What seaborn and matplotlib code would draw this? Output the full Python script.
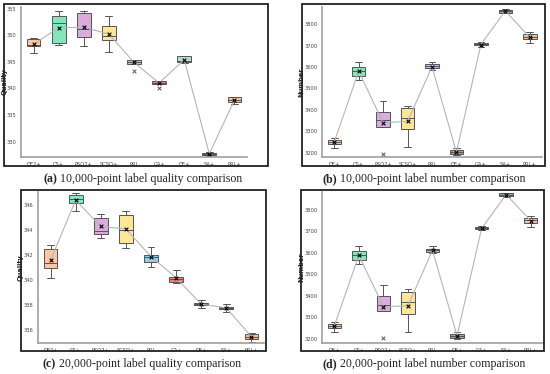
import numpy as np
import pandas as pd
import matplotlib
matplotlib.use("Agg")
import matplotlib.pyplot as plt
import seaborn as sns

# ------------------------------------------------------------
# data
# ------------------------------------------------------------
labels_quality = ["DE2+", "CS+", "PSO2+", "SCSO+", "PRL", "GA+", "DE+", "SA+", "PRL+"]
labels_number = ["DE+", "CS+", "PSO2+", "SCSO+", "PRL", "DE+", "GA+", "SA+", "PRL+"]

# (a) 10,000-point quality
a_lo = [346.6, 348.2, 347.9, 346.9, 344.5, 340.8, 344.7, 327.4, 337.0]
a_q1 = [347.9, 348.5, 349.6, 349.1, 344.6, 340.9, 344.9, 327.5, 337.5]
a_med = [348.1, 352.2, 351.1, 349.9, 345.0, 341.1, 345.2, 327.7, 337.9]
a_q3 = [349.3, 353.7, 354.2, 351.7, 345.3, 341.3, 346.0, 327.9, 338.3]
a_hi = [349.5, 354.6, 354.6, 353.7, 345.4, 341.4, 346.1, 328.0, 338.4]
a_mean = [348.3, 351.4, 351.5, 350.2, 344.9, 341.0, 345.4, 327.7, 337.8]
a_out_slot = [4, 5]
a_out_val = [343.3, 340.0]

# (b) 10,000-point number
b_lo = [3222, 3541, 3319, 3226, 3586, 3189, 3693, 3851, 3712]
b_q1 = [3239, 3560, 3319, 3310, 3594, 3195, 3701, 3854, 3730]
b_med = [3250, 3581, 3352, 3361, 3603, 3203, 3707, 3862, 3741]
b_q3 = [3261, 3600, 3389, 3409, 3612, 3212, 3712, 3868, 3753]
b_hi = [3271, 3622, 3442, 3420, 3622, 3223, 3715, 3873, 3763]
b_mean = [3250, 3580, 3340, 3346, 3601, 3203, 3705, 3862, 3738]
b_out_slot = [2]
b_out_val = [3194]

# (c) 20,000-point quality
c_lo = [340.2, 345.5, 343.4, 342.6, 341.1, 339.8, 337.8, 337.5, 335.1]
c_q1 = [341.0, 346.2, 343.7, 343.0, 341.5, 339.9, 338.0, 337.7, 335.3]
c_med = [341.4, 346.5, 343.9, 344.0, 341.9, 340.1, 338.1, 337.8, 335.5]
c_q3 = [342.5, 346.8, 345.0, 345.2, 342.0, 340.3, 338.2, 337.9, 335.7]
c_hi = [342.8, 347.0, 345.3, 345.5, 342.7, 340.8, 338.4, 338.1, 335.8]
c_mean = [341.6, 346.4, 344.3, 344.1, 341.9, 340.2, 338.1, 337.8, 335.5]
c_out_slot = []
c_out_val = []

# (d) 20,000-point number
d_lo = [3230, 3548, 3329, 3233, 3598, 3199, 3705, 3860, 3720]
d_q1 = [3248, 3568, 3329, 3316, 3604, 3205, 3709, 3863, 3738]
d_med = [3259, 3588, 3356, 3369, 3611, 3214, 3715, 3870, 3751]
d_q3 = [3270, 3608, 3400, 3418, 3619, 3222, 3720, 3876, 3761]
d_hi = [3279, 3630, 3449, 3431, 3630, 3231, 3723, 3879, 3771]
d_mean = [3259, 3587, 3349, 3353, 3611, 3214, 3713, 3870, 3749]
d_out_slot = [2]
d_out_val = [3205]

palette = ["#f9c7a5", "#85e6be", "#dcaadc", "#fde696", "#8fd0ee",
           "#f08078", "#b5dccf", "#7fa6c4", "#f5c29a"]

W, H = 550, 374
fig = plt.figure(figsize=(W / 100, H / 100), dpi=100)
fig.patch.set_facecolor("white")


def px_axes(left, top, right, bottom):
    return fig.add_axes([left / W, 1 - bottom / H, (right - left) / W, (bottom - top) / H])


def frame(left, top, right, bottom):
    fig.add_artist(plt.Rectangle((left / W, 1 - bottom / H), (right - left) / W, (bottom - top) / H,
                                 transform=fig.transFigure, fill=False, lw=1.3, ec="#222222"))


def caption(cx, cy, tag, rest):
    r = fig.canvas.get_renderer()
    t1 = fig.text(0, 1 - cy / H, tag, fontsize=8.6, fontweight="bold",
                  family="Liberation Serif", va="center", ha="left")
    t2 = fig.text(0, 1 - cy / H, " " + rest, fontsize=8.6,
                  family="Liberation Serif", va="center", ha="left")
    w1 = t1.get_window_extent(r).width
    w2 = t2.get_window_extent(r).width
    x0 = cx - (w1 + w2) / 2
    t1.set_x(x0 / W)
    t2.set_x((x0 + w1) / W)


def panel(ax, lo, q1, med, q3, hi, mean, out_slot, out_val, labels, ylabel, ylim, yticks, ylab_x):
    # five-number summary per slot -> box with whiskers at min / max
    rows = []
    for i in range(len(labels)):
        for v in (lo[i], q1[i], med[i], q3[i], hi[i]):
            rows.append({"slot": i, "value": v})
    df = pd.DataFrame(rows)
    sns.boxplot(data=df, x="slot", y="value", hue="slot", palette=palette, legend=False,
                whis=(0, 100), width=0.55, saturation=1, linecolor="#555555",
                linewidth=0.7, ax=ax)
    means = pd.DataFrame({"slot": range(len(labels)), "mean": mean})
    sns.lineplot(data=means, x="slot", y="mean", color="#b5b5b5", lw=0.8, ax=ax, zorder=4)
    sns.scatterplot(data=means, x="slot", y="mean", marker="x", color="black", s=7,
                    linewidth=0.8, ax=ax, zorder=5)
    if out_slot:
        outs = pd.DataFrame({"slot": out_slot, "value": out_val})
        sns.scatterplot(data=outs, x="slot", y="value", marker="x", color="#555555", s=7,
                        linewidth=0.7, ax=ax, zorder=5)
    ax.set_xlim(-0.5, len(labels) - 0.5)
    ax.set_ylim(*ylim)
    ax.set_yticks(yticks)
    ax.set_xticks(range(len(labels)))
    ax.set_xticklabels(labels)
    ax.set_xlabel("")
    ax.set_ylabel(ylabel, fontsize=4.8, fontweight="bold")
    ax.yaxis.set_label_coords(ylab_x, 0.5)
    ax.tick_params(labelsize=3.7, length=1.5, width=0.5, pad=1.8, colors="#444444")
    for s in ("top", "right"):
        ax.spines[s].set_visible(False)
    for s in ("left", "bottom"):
        ax.spines[s].set_color("#a0a0a0")
        ax.spines[s].set_linewidth(1.2)
    ax.set_facecolor("white")


sns.set_style("white")

ax_a = px_axes(21, 7, 247, 157)
panel(ax_a, a_lo, a_q1, a_med, a_q3, a_hi, a_mean, a_out_slot, a_out_val,
      labels_quality, "Quality", (327.1, 355.3), [330, 335, 340, 345, 350, 355], -0.058)
frame(4, 4, 268, 166)
caption(143, 179, "(a)", "10,000-point label quality comparison")

ax_b = px_axes(322, 7, 542, 157)
panel(ax_b, b_lo, b_q1, b_med, b_q3, b_hi, b_mean, b_out_slot, b_out_val,
      labels_number, "Number", (3180, 3880), [3200, 3300, 3400, 3500, 3600, 3700, 3800], -0.078)
frame(302, 4, 545, 166)
caption(424, 179, "(b)", "10,000-point label number comparison")

ax_c = px_axes(38, 192, 264, 343)
panel(ax_c, c_lo, c_q1, c_med, c_q3, c_hi, c_mean, c_out_slot, c_out_val,
      labels_quality, "Quality", (335.0, 347.05), [336, 338, 340, 342, 344, 346], -0.062)
frame(21, 190, 266, 351)
caption(142, 364, "(c)", "20,000-point label quality comparison")

ax_d = px_axes(322, 192, 543, 343)
panel(ax_d, d_lo, d_q1, d_med, d_q3, d_hi, d_mean, d_out_slot, d_out_val,
      labels_number, "Number", (3180, 3882), [3200, 3300, 3400, 3500, 3600, 3700, 3800], -0.08)
frame(301, 190, 544, 351)
caption(424, 364, "(d)", "20,000-point label number comparison")

fig.savefig("out.png", dpi=100, facecolor="white")
